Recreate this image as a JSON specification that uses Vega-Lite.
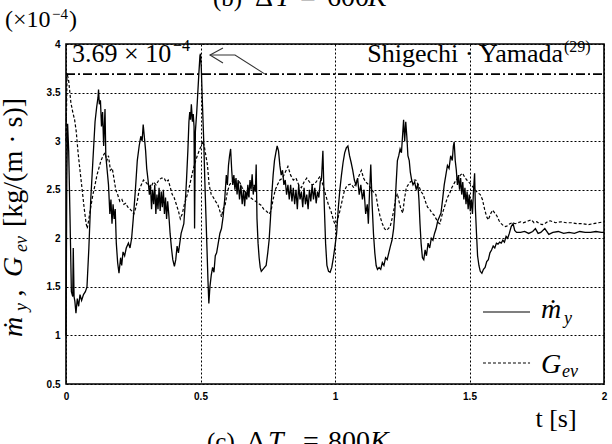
{
"$schema":"https://vega.github.io/schema/vega-lite/v6.json",
"width":538,"height":340,
"autosize":{"type":"none"},
"padding":{"left":66,"top":44,"right":8,"bottom":60},
"background":"white",
"config":{"view":{"stroke":"black","strokeWidth":1.6}},
"encoding":{
"x":{"field":"t","type":"quantitative","scale":{"domain":[0,2],"nice":false,"zero":false},
"axis":{"values":[0,0.5,1,1.5,2],"title":null,"ticks":false,"domain":false,"labelExpr":"''+datum.value","labelFont":"Liberation Sans","labelFontWeight":"bold","labelFontSize":10,"labelPadding":7,"labelFlush":false,"labelColor":"black","grid":true,"gridColor":"black","gridDash":[2,2],"gridOpacity":1,"gridWidth":1}},
"y":{"field":"v","type":"quantitative","scale":{"domain":[0.5,4],"nice":false,"zero":false},
"axis":{"values":[0.5,1,1.5,2,2.5,3,3.5,4],"title":null,"ticks":false,"domain":false,"labelExpr":"''+datum.value","labelFont":"Liberation Sans","labelFontWeight":"bold","labelFontSize":10,"labelPadding":6,"labelFlush":false,"labelColor":"black","grid":true,"gridColor":"black","gridDash":[2,2],"gridOpacity":1,"gridWidth":1}}
},
"layer":[
{"data":{"values":[{"t":0,"t2":2,"v":3.69}]},"mark":{"type":"rule","color":"black","strokeWidth":1.6,"strokeDash":[9,3,2,3]},"encoding":{"x2":{"field":"t2"}}},
{"data":{"values":[
{"t":0,"v":1.0},{"t":0.003,"v":2.6},{"t":0.006,"v":3.18},{"t":0.01,"v":2.9},{"t":0.015,"v":2.2},{"t":0.02,"v":1.45},{"t":0.025,"v":1.4},{"t":0.027,"v":1.9},{"t":0.03,"v":1.4},{"t":0.033,"v":1.35},{"t":0.037,"v":1.23},{"t":0.042,"v":1.38},{"t":0.047,"v":1.3},{"t":0.052,"v":1.42},{"t":0.058,"v":1.36},{"t":0.065,"v":1.42},{"t":0.072,"v":1.45},{"t":0.078,"v":1.5},{"t":0.085,"v":1.9},{"t":0.092,"v":2.4},{"t":0.1,"v":2.8},{"t":0.108,"v":3.2},{"t":0.114,"v":3.35},{"t":0.119,"v":3.45},{"t":0.121,"v":3.53},{"t":0.124,"v":3.38},{"t":0.128,"v":3.42},{"t":0.132,"v":3.15},{"t":0.136,"v":3.3},{"t":0.14,"v":2.95},{"t":0.145,"v":3.33},{"t":0.148,"v":2.85},{"t":0.153,"v":2.7},{"t":0.158,"v":2.55},{"t":0.163,"v":2.25},{"t":0.167,"v":2.4},{"t":0.171,"v":2.15},{"t":0.175,"v":2.35},{"t":0.179,"v":2.2},{"t":0.183,"v":2.3},{"t":0.187,"v":1.95},{"t":0.192,"v":1.75},{"t":0.197,"v":1.64},{"t":0.203,"v":1.8},{"t":0.207,"v":1.72},{"t":0.212,"v":1.86},{"t":0.218,"v":1.82},{"t":0.224,"v":1.9},{"t":0.232,"v":1.95},{"t":0.238,"v":1.9},{"t":0.244,"v":2.0},{"t":0.25,"v":2.2},{"t":0.258,"v":2.5},{"t":0.265,"v":2.8},{"t":0.272,"v":2.95},{"t":0.278,"v":3.05},{"t":0.283,"v":3.0},{"t":0.287,"v":3.17},{"t":0.291,"v":3.05},{"t":0.296,"v":2.9},{"t":0.3,"v":2.72},{"t":0.305,"v":2.6},{"t":0.31,"v":2.45},{"t":0.314,"v":2.55},{"t":0.318,"v":2.3},{"t":0.322,"v":2.5},{"t":0.326,"v":2.35},{"t":0.33,"v":2.55},{"t":0.334,"v":2.25},{"t":0.338,"v":2.45},{"t":0.342,"v":2.3},{"t":0.346,"v":2.52},{"t":0.35,"v":2.28},{"t":0.354,"v":2.48},{"t":0.358,"v":2.32},{"t":0.362,"v":2.5},{"t":0.366,"v":2.25},{"t":0.37,"v":2.42},{"t":0.374,"v":2.2},{"t":0.378,"v":2.38},{"t":0.382,"v":2.25},{"t":0.387,"v":2.05},{"t":0.392,"v":1.9},{"t":0.397,"v":1.78},{"t":0.403,"v":1.71},{"t":0.408,"v":1.78},{"t":0.413,"v":1.92},{"t":0.418,"v":1.85},{"t":0.423,"v":1.95},{"t":0.428,"v":2.05},{"t":0.433,"v":2.1},{"t":0.438,"v":2.15},{"t":0.443,"v":2.35},{"t":0.448,"v":2.6},{"t":0.453,"v":2.9},{"t":0.457,"v":3.2},{"t":0.46,"v":3.3},{"t":0.463,"v":3.22},{"t":0.466,"v":3.38},{"t":0.47,"v":3.2},{"t":0.473,"v":3.28},{"t":0.476,"v":3.15},{"t":0.478,"v":2.1},{"t":0.481,"v":3.1},{"t":0.486,"v":3.3},{"t":0.49,"v":3.5},{"t":0.494,"v":3.7},{"t":0.498,"v":3.88},{"t":0.5,"v":3.9},{"t":0.503,"v":3.75},{"t":0.507,"v":3.4},{"t":0.512,"v":3.0},{"t":0.516,"v":2.6},{"t":0.52,"v":2.25},{"t":0.524,"v":1.9},{"t":0.528,"v":1.55},{"t":0.531,"v":1.33},{"t":0.535,"v":1.5},{"t":0.54,"v":1.62},{"t":0.545,"v":1.7},{"t":0.55,"v":1.65},{"t":0.555,"v":1.82},{"t":0.56,"v":1.85},{"t":0.566,"v":1.95},{"t":0.572,"v":2.05},{"t":0.578,"v":2.1},{"t":0.584,"v":2.22},{"t":0.59,"v":2.4},{"t":0.596,"v":2.65},{"t":0.6,"v":2.55},{"t":0.604,"v":2.75},{"t":0.608,"v":2.85},{"t":0.612,"v":2.92},{"t":0.616,"v":2.7},{"t":0.62,"v":2.55},{"t":0.624,"v":2.65},{"t":0.628,"v":2.5},{"t":0.632,"v":2.62},{"t":0.636,"v":2.45},{"t":0.64,"v":2.6},{"t":0.645,"v":2.4},{"t":0.65,"v":2.55},{"t":0.655,"v":2.35},{"t":0.66,"v":2.5},{"t":0.664,"v":2.33},{"t":0.668,"v":2.48},{"t":0.672,"v":2.4},{"t":0.676,"v":2.55},{"t":0.68,"v":2.42},{"t":0.684,"v":2.6},{"t":0.688,"v":2.5},{"t":0.692,"v":2.66},{"t":0.696,"v":2.45},{"t":0.7,"v":2.55},{"t":0.704,"v":2.48},{"t":0.707,"v":2.76},{"t":0.71,"v":2.2},{"t":0.714,"v":1.95},{"t":0.718,"v":1.8},{"t":0.722,"v":1.7},{"t":0.726,"v":1.66},{"t":0.732,"v":1.68},{"t":0.738,"v":1.7},{"t":0.744,"v":1.72},{"t":0.75,"v":1.85},{"t":0.755,"v":1.98},{"t":0.76,"v":2.2},{"t":0.765,"v":2.45},{"t":0.77,"v":2.65},{"t":0.775,"v":2.8},{"t":0.78,"v":2.88},{"t":0.785,"v":2.95},{"t":0.79,"v":2.9},{"t":0.795,"v":2.75},{"t":0.8,"v":2.65},{"t":0.805,"v":2.7},{"t":0.81,"v":2.55},{"t":0.815,"v":2.6},{"t":0.82,"v":2.45},{"t":0.825,"v":2.55},{"t":0.83,"v":2.4},{"t":0.835,"v":2.55},{"t":0.84,"v":2.38},{"t":0.845,"v":2.52},{"t":0.85,"v":2.35},{"t":0.855,"v":2.5},{"t":0.86,"v":2.3},{"t":0.865,"v":2.55},{"t":0.87,"v":2.4},{"t":0.875,"v":2.48},{"t":0.88,"v":2.32},{"t":0.885,"v":2.52},{"t":0.89,"v":2.35},{"t":0.895,"v":2.45},{"t":0.9,"v":2.3},{"t":0.905,"v":2.5},{"t":0.91,"v":2.38},{"t":0.915,"v":2.55},{"t":0.92,"v":2.4},{"t":0.925,"v":2.52},{"t":0.93,"v":2.36},{"t":0.935,"v":2.48},{"t":0.94,"v":2.42},{"t":0.945,"v":2.58},{"t":0.95,"v":2.62},{"t":0.955,"v":2.9},{"t":0.96,"v":2.35},{"t":0.965,"v":1.95},{"t":0.97,"v":1.72},{"t":0.976,"v":1.66},{"t":0.982,"v":1.65},{"t":0.988,"v":1.7},{"t":0.994,"v":1.8},{"t":1.0,"v":1.92},{"t":1.006,"v":2.05},{"t":1.012,"v":2.3},{"t":1.018,"v":2.5},{"t":1.024,"v":2.65},{"t":1.03,"v":2.78},{"t":1.036,"v":2.88},{"t":1.042,"v":2.93},{"t":1.048,"v":2.95},{"t":1.054,"v":2.85},{"t":1.06,"v":2.78},{"t":1.066,"v":2.7},{"t":1.072,"v":2.6},{"t":1.078,"v":2.55},{"t":1.084,"v":2.62},{"t":1.09,"v":2.45},{"t":1.096,"v":2.55},{"t":1.102,"v":2.4},{"t":1.108,"v":2.5},{"t":1.114,"v":2.25},{"t":1.12,"v":2.35},{"t":1.124,"v":2.15},{"t":1.128,"v":2.45},{"t":1.133,"v":2.76},{"t":1.138,"v":2.35},{"t":1.143,"v":2.05},{"t":1.148,"v":1.85},{"t":1.153,"v":1.72},{"t":1.158,"v":1.68},{"t":1.164,"v":1.7},{"t":1.17,"v":1.68},{"t":1.176,"v":1.75},{"t":1.182,"v":1.72},{"t":1.188,"v":1.8},{"t":1.194,"v":1.78},{"t":1.2,"v":1.85},{"t":1.206,"v":1.92},{"t":1.212,"v":1.98},{"t":1.218,"v":2.1},{"t":1.222,"v":2.25},{"t":1.227,"v":2.55},{"t":1.232,"v":2.8},{"t":1.237,"v":2.85},{"t":1.242,"v":2.92},{"t":1.247,"v":2.88},{"t":1.251,"v":3.05},{"t":1.255,"v":3.22},{"t":1.259,"v":3.0},{"t":1.263,"v":3.2},{"t":1.267,"v":3.05},{"t":1.271,"v":2.85},{"t":1.276,"v":2.8},{"t":1.28,"v":2.68},{"t":1.285,"v":2.6},{"t":1.29,"v":2.55},{"t":1.296,"v":2.58},{"t":1.302,"v":2.5},{"t":1.308,"v":2.56},{"t":1.312,"v":2.4},{"t":1.316,"v":2.15},{"t":1.32,"v":1.95},{"t":1.325,"v":1.8},{"t":1.33,"v":1.78},{"t":1.335,"v":1.88},{"t":1.34,"v":1.82},{"t":1.346,"v":1.95},{"t":1.352,"v":1.9},{"t":1.358,"v":2.0},{"t":1.364,"v":1.98},{"t":1.37,"v":2.05},{"t":1.376,"v":2.1},{"t":1.382,"v":2.18},{"t":1.388,"v":2.22},{"t":1.394,"v":2.26},{"t":1.4,"v":2.4},{"t":1.406,"v":2.55},{"t":1.412,"v":2.65},{"t":1.418,"v":2.75},{"t":1.424,"v":2.72},{"t":1.43,"v":2.85},{"t":1.436,"v":2.8},{"t":1.44,"v":2.95},{"t":1.443,"v":2.99},{"t":1.447,"v":2.8},{"t":1.451,"v":2.7},{"t":1.455,"v":2.55},{"t":1.459,"v":2.65},{"t":1.463,"v":2.5},{"t":1.467,"v":2.62},{"t":1.471,"v":2.45},{"t":1.475,"v":2.58},{"t":1.479,"v":2.4},{"t":1.483,"v":2.52},{"t":1.487,"v":2.35},{"t":1.491,"v":2.48},{"t":1.495,"v":2.3},{"t":1.499,"v":2.45},{"t":1.503,"v":2.28},{"t":1.507,"v":2.4},{"t":1.511,"v":2.25},{"t":1.515,"v":2.5},{"t":1.519,"v":2.67},{"t":1.522,"v":2.3},{"t":1.526,"v":2.05},{"t":1.53,"v":1.82},{"t":1.535,"v":1.72},{"t":1.54,"v":1.66},{"t":1.546,"v":1.64},{"t":1.552,"v":1.68},{"t":1.558,"v":1.7},{"t":1.564,"v":1.76},{"t":1.57,"v":1.78},{"t":1.576,"v":1.85},{"t":1.582,"v":1.88},{"t":1.588,"v":1.92},{"t":1.594,"v":1.9},{"t":1.6,"v":1.95},{"t":1.606,"v":1.94},{"t":1.612,"v":1.96},{"t":1.618,"v":1.95},{"t":1.624,"v":1.98},{"t":1.63,"v":1.96},{"t":1.636,"v":2.02},{"t":1.642,"v":2.0},{"t":1.648,"v":2.05},{"t":1.655,"v":2.12},{"t":1.662,"v":2.15},{"t":1.668,"v":2.08},{"t":1.675,"v":2.06},{"t":1.69,"v":2.06},{"t":1.705,"v":2.07},{"t":1.72,"v":2.05},{"t":1.735,"v":2.07},{"t":1.745,"v":2.1},{"t":1.755,"v":2.05},{"t":1.765,"v":2.06},{"t":1.78,"v":2.1},{"t":1.795,"v":2.04},{"t":1.81,"v":2.06},{"t":1.83,"v":2.07},{"t":1.85,"v":2.05},{"t":1.87,"v":2.06},{"t":1.89,"v":2.05},{"t":1.91,"v":2.07},{"t":1.93,"v":2.06},{"t":1.95,"v":2.06},{"t":1.97,"v":2.07},{"t":1.99,"v":2.06},{"t":2.0,"v":2.06}
]},"mark":{"type":"line","color":"black","strokeWidth":1.3}},
{"data":{"values":[
{"t":0,"v":3.0},{"t":0.004,"v":3.7},{"t":0.01,"v":3.62},{"t":0.018,"v":3.4},{"t":0.025,"v":3.3},{"t":0.032,"v":3.22},{"t":0.038,"v":3.1},{"t":0.045,"v":2.88},{"t":0.052,"v":2.7},{"t":0.06,"v":2.5},{"t":0.068,"v":2.3},{"t":0.075,"v":2.15},{"t":0.079,"v":2.1},{"t":0.085,"v":2.2},{"t":0.092,"v":2.32},{"t":0.1,"v":2.45},{"t":0.108,"v":2.55},{"t":0.115,"v":2.65},{"t":0.122,"v":2.72},{"t":0.13,"v":2.8},{"t":0.138,"v":2.85},{"t":0.145,"v":2.88},{"t":0.152,"v":2.8},{"t":0.158,"v":2.85},{"t":0.165,"v":2.7},{"t":0.172,"v":2.72},{"t":0.178,"v":2.62},{"t":0.185,"v":2.5},{"t":0.192,"v":2.45},{"t":0.2,"v":2.38},{"t":0.208,"v":2.4},{"t":0.215,"v":2.35},{"t":0.222,"v":2.36},{"t":0.23,"v":2.32},{"t":0.238,"v":2.3},{"t":0.245,"v":2.28},{"t":0.252,"v":2.25},{"t":0.258,"v":2.3},{"t":0.265,"v":2.38},{"t":0.272,"v":2.5},{"t":0.28,"v":2.55},{"t":0.288,"v":2.6},{"t":0.296,"v":2.58},{"t":0.305,"v":2.55},{"t":0.315,"v":2.52},{"t":0.325,"v":2.58},{"t":0.335,"v":2.55},{"t":0.345,"v":2.6},{"t":0.355,"v":2.62},{"t":0.365,"v":2.62},{"t":0.372,"v":2.58},{"t":0.38,"v":2.6},{"t":0.388,"v":2.52},{"t":0.395,"v":2.45},{"t":0.402,"v":2.42},{"t":0.41,"v":2.35},{"t":0.418,"v":2.28},{"t":0.425,"v":2.2},{"t":0.432,"v":2.25},{"t":0.44,"v":2.35},{"t":0.448,"v":2.42},{"t":0.456,"v":2.5},{"t":0.464,"v":2.6},{"t":0.472,"v":2.7},{"t":0.48,"v":2.78},{"t":0.488,"v":2.85},{"t":0.495,"v":2.9},{"t":0.502,"v":2.95},{"t":0.508,"v":3.0},{"t":0.514,"v":2.95},{"t":0.52,"v":2.85},{"t":0.526,"v":2.75},{"t":0.532,"v":2.55},{"t":0.54,"v":2.45},{"t":0.548,"v":2.42},{"t":0.556,"v":2.38},{"t":0.564,"v":2.35},{"t":0.572,"v":2.28},{"t":0.578,"v":2.22},{"t":0.584,"v":2.3},{"t":0.592,"v":2.35},{"t":0.6,"v":2.48},{"t":0.608,"v":2.55},{"t":0.616,"v":2.58},{"t":0.625,"v":2.62},{"t":0.635,"v":2.55},{"t":0.645,"v":2.58},{"t":0.655,"v":2.52},{"t":0.665,"v":2.48},{"t":0.675,"v":2.45},{"t":0.685,"v":2.42},{"t":0.695,"v":2.4},{"t":0.705,"v":2.38},{"t":0.715,"v":2.36},{"t":0.725,"v":2.34},{"t":0.735,"v":2.3},{"t":0.745,"v":2.28},{"t":0.755,"v":2.25},{"t":0.762,"v":2.28},{"t":0.77,"v":2.4},{"t":0.778,"v":2.5},{"t":0.786,"v":2.55},{"t":0.795,"v":2.6},{"t":0.805,"v":2.62},{"t":0.815,"v":2.68},{"t":0.825,"v":2.74},{"t":0.835,"v":2.65},{"t":0.845,"v":2.6},{"t":0.855,"v":2.62},{"t":0.865,"v":2.55},{"t":0.875,"v":2.52},{"t":0.885,"v":2.58},{"t":0.895,"v":2.62},{"t":0.905,"v":2.58},{"t":0.915,"v":2.55},{"t":0.925,"v":2.56},{"t":0.935,"v":2.6},{"t":0.945,"v":2.64},{"t":0.955,"v":2.55},{"t":0.965,"v":2.45},{"t":0.975,"v":2.35},{"t":0.985,"v":2.28},{"t":0.995,"v":2.18},{"t":1.003,"v":2.12},{"t":1.01,"v":2.2},{"t":1.018,"v":2.28},{"t":1.026,"v":2.38},{"t":1.034,"v":2.48},{"t":1.042,"v":2.53},{"t":1.05,"v":2.55},{"t":1.06,"v":2.56},{"t":1.07,"v":2.52},{"t":1.08,"v":2.58},{"t":1.09,"v":2.65},{"t":1.098,"v":2.7},{"t":1.106,"v":2.62},{"t":1.114,"v":2.58},{"t":1.122,"v":2.56},{"t":1.132,"v":2.52},{"t":1.142,"v":2.48},{"t":1.152,"v":2.45},{"t":1.16,"v":2.32},{"t":1.168,"v":2.22},{"t":1.176,"v":2.15},{"t":1.184,"v":2.1},{"t":1.191,"v":2.08},{"t":1.198,"v":2.1},{"t":1.205,"v":2.12},{"t":1.212,"v":2.2},{"t":1.218,"v":2.28},{"t":1.225,"v":2.4},{"t":1.232,"v":2.46},{"t":1.238,"v":2.38},{"t":1.245,"v":2.3},{"t":1.252,"v":2.26},{"t":1.258,"v":2.4},{"t":1.265,"v":2.52},{"t":1.272,"v":2.55},{"t":1.28,"v":2.58},{"t":1.29,"v":2.6},{"t":1.3,"v":2.6},{"t":1.31,"v":2.55},{"t":1.32,"v":2.48},{"t":1.328,"v":2.45},{"t":1.336,"v":2.38},{"t":1.344,"v":2.32},{"t":1.352,"v":2.3},{"t":1.36,"v":2.26},{"t":1.368,"v":2.24},{"t":1.376,"v":2.2},{"t":1.384,"v":2.16},{"t":1.39,"v":2.15},{"t":1.396,"v":2.22},{"t":1.402,"v":2.28},{"t":1.41,"v":2.35},{"t":1.418,"v":2.42},{"t":1.426,"v":2.46},{"t":1.434,"v":2.52},{"t":1.442,"v":2.56},{"t":1.45,"v":2.6},{"t":1.458,"v":2.62},{"t":1.466,"v":2.65},{"t":1.474,"v":2.67},{"t":1.482,"v":2.63},{"t":1.49,"v":2.6},{"t":1.5,"v":2.57},{"t":1.51,"v":2.54},{"t":1.52,"v":2.5},{"t":1.53,"v":2.47},{"t":1.54,"v":2.45},{"t":1.548,"v":2.4},{"t":1.556,"v":2.3},{"t":1.564,"v":2.22},{"t":1.57,"v":2.19},{"t":1.578,"v":2.25},{"t":1.586,"v":2.29},{"t":1.594,"v":2.26},{"t":1.602,"v":2.23},{"t":1.61,"v":2.18},{"t":1.618,"v":2.15},{"t":1.626,"v":2.13},{"t":1.634,"v":2.12},{"t":1.642,"v":2.13},{"t":1.65,"v":2.15},{"t":1.66,"v":2.16},{"t":1.67,"v":2.15},{"t":1.68,"v":2.16},{"t":1.69,"v":2.17},{"t":1.7,"v":2.16},{"t":1.71,"v":2.17},{"t":1.72,"v":2.18},{"t":1.73,"v":2.19},{"t":1.74,"v":2.16},{"t":1.75,"v":2.17},{"t":1.76,"v":2.15},{"t":1.77,"v":2.14},{"t":1.78,"v":2.15},{"t":1.79,"v":2.17},{"t":1.8,"v":2.18},{"t":1.81,"v":2.17},{"t":1.82,"v":2.16},{"t":1.84,"v":2.17},{"t":1.86,"v":2.16},{"t":1.88,"v":2.16},{"t":1.9,"v":2.15},{"t":1.92,"v":2.15},{"t":1.94,"v":2.14},{"t":1.96,"v":2.15},{"t":1.98,"v":2.16},{"t":2.0,"v":2.17}
]},"mark":{"type":"line","color":"black","strokeWidth":1.2,"strokeDash":[3,2]}},
{"data":{"values":[
{"seg":"shaft","o":1,"t":0.5353,"v":3.887},{"seg":"shaft","o":2,"t":0.6283,"v":3.887},{"seg":"shaft","o":3,"t":0.7398,"v":3.69},
{"seg":"head","o":1,"t":0.5836,"v":3.959},{"seg":"head","o":2,"t":0.5353,"v":3.887},{"seg":"head","o":3,"t":0.5836,"v":3.804}
]},"mark":{"type":"line","color":"#333","strokeWidth":1.1},"encoding":{"detail":{"field":"seg"},"order":{"field":"o"}}},
{"data":{"values":[{"t":1.55,"t2":1.725,"v":1.241}]},"mark":{"type":"rule","color":"black","strokeWidth":1.2},"encoding":{"x2":{"field":"t2"}}},
{"data":{"values":[{"t":1.55,"t2":1.725,"v":0.716}]},"mark":{"type":"rule","color":"black","strokeWidth":1.2,"strokeDash":[3,2]},"encoding":{"x2":{"field":"t2"}}},
{"data":{"values":[{"t":1.766,"v":1.179,"label":"ṁ"},{"t":1.766,"v":0.613,"label":"G"}]},"mark":{"type":"text","font":"Liberation Serif","fontStyle":"italic","fontSize":28,"align":"left","baseline":"alphabetic","color":"black"},"encoding":{"text":{"field":"label"}}},
{"data":{"values":[{"t":1.851,"v":1.118,"label":"y"},{"t":1.844,"v":0.572,"label":"ev"}]},"mark":{"type":"text","font":"Liberation Serif","fontStyle":"italic","fontSize":18,"align":"left","baseline":"alphabetic","color":"black"},"encoding":{"text":{"field":"label"}}},
{"data":{"values":[{"t":0.0223,"v":3.8147,"label":"3.69 × 10"}]},"mark":{"type":"text","font":"Liberation Serif","fontSize":26,"align":"left","baseline":"alphabetic","color":"black"},"encoding":{"text":{"field":"label"}}},
{"data":{"values":[{"t":0.3978,"v":3.928,"label":"−4"}]},"mark":{"type":"text","font":"Liberation Serif","fontSize":16,"align":"left","baseline":"alphabetic","color":"black"},"encoding":{"text":{"field":"label"}}},
{"data":{"values":[{"t":1.8476,"v":3.8147,"label":"Shigechi · Yamada"}]},"mark":{"type":"text","font":"Liberation Serif","fontSize":26,"align":"right","baseline":"alphabetic","color":"black"},"encoding":{"text":{"field":"label"}}},
{"data":{"values":[{"t":1.8513,"v":3.918,"label":"(29)"}]},"mark":{"type":"text","font":"Liberation Serif","fontSize":16,"align":"left","baseline":"alphabetic","color":"black"},"encoding":{"text":{"field":"label"}}},
{"data":{"values":[{"t":-0.2268,"v":4.175,"label":"(×10"},{"t":0.0112,"v":4.175,"label":")"}]},"mark":{"type":"text","font":"Liberation Serif","fontSize":24,"align":"left","baseline":"alphabetic","color":"black"},"encoding":{"text":{"field":"label"}}},
{"data":{"values":[{"t":-0.052,"v":4.257,"label":"−4"}]},"mark":{"type":"text","font":"Liberation Serif","fontSize":15,"align":"left","baseline":"alphabetic","color":"black"},"encoding":{"text":{"field":"label"}}},
{"data":{"values":[{"t":1.8216,"v":0.057,"label":"t [s]"}]},"mark":{"type":"text","font":"Liberation Serif","fontSize":26,"align":"center","baseline":"alphabetic","color":"black"},"encoding":{"text":{"field":"label"}}},
{"data":{"values":[{"t":0.5242,"v":-0.18,"label":"(c)"},{"t":0.5465,"v":4.391,"label":"(b)"}]},"mark":{"type":"text","font":"Liberation Serif","fontSize":25,"align":"left","baseline":"alphabetic","color":"black"},"encoding":{"text":{"field":"label"}}},
{"data":{"values":[{"t":0.6729,"v":-0.18,"label":"Δ"},{"t":0.881,"v":-0.18,"label":"="},{"t":0.974,"v":-0.18,"label":"800"},{"t":0.7026,"v":4.391,"label":"Δ"},{"t":0.8699,"v":4.391,"label":"="},{"t":0.9703,"v":4.391,"label":"600"}]},"mark":{"type":"text","font":"Liberation Serif","fontSize":28,"align":"left","baseline":"alphabetic","color":"black"},"encoding":{"text":{"field":"label"}}},
{"data":{"values":[{"t":0.7509,"v":-0.18,"label":"T"},{"t":1.1301,"v":-0.18,"label":"K"},{"t":0.777,"v":4.391,"label":"T"},{"t":1.1227,"v":4.391,"label":"K"}]},"mark":{"type":"text","font":"Liberation Serif","fontStyle":"italic","fontSize":28,"align":"left","baseline":"alphabetic","color":"black"},"encoding":{"text":{"field":"label"}}},
{"data":{"values":[{"t":-0.1636,"v":0.9837,"label":"ṁ"},{"t":-0.1636,"v":1.602,"label":"G"}]},"mark":{"type":"text","font":"Liberation Serif","fontStyle":"italic","fontSize":28,"angle":270,"align":"left","baseline":"alphabetic","color":"black"},"encoding":{"text":{"field":"label"}}},
{"data":{"values":[{"t":-0.145,"v":1.252,"label":"y"},{"t":-0.145,"v":1.859,"label":"ev"}]},"mark":{"type":"text","font":"Liberation Serif","fontStyle":"italic","fontSize":18,"angle":270,"align":"left","baseline":"alphabetic","color":"black"},"encoding":{"text":{"field":"label"}}},
{"data":{"values":[{"t":-0.1636,"v":1.40,"label":","},{"t":-0.1636,"v":2.116,"label":"[kg/(m · s)]"}]},"mark":{"type":"text","font":"Liberation Serif","fontSize":28,"angle":270,"align":"left","baseline":"alphabetic","color":"black"},"encoding":{"text":{"field":"label"}}}
]
}
